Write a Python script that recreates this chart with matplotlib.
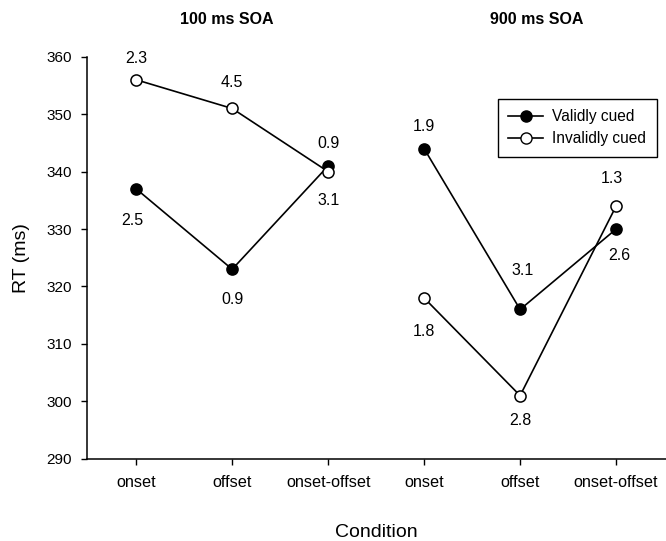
import numpy as np
import matplotlib
matplotlib.use('Agg')
import matplotlib.pyplot as plt
from matplotlib.lines import Line2D

plt.rcParams['font.family'] = ['Liberation Sans', 'DejaVu Sans']

# data
conditions = ['onset', 'offset', 'onset-offset']
soa_titles = ['100 ms SOA', '900 ms SOA']
valid_100 = [337, 323, 341]
invalid_100 = [356, 351, 340]
valid_900 = [344, 316, 330]
invalid_900 = [318, 301, 334]
valid_err_100 = ['2.5', '0.9', '0.9']
invalid_err_100 = ['2.3', '4.5', '3.1']
valid_err_900 = ['1.9', '3.1', '2.6']
invalid_err_900 = ['1.8', '2.8', '1.3']

# label offsets in points (dx, dy) from each marker
valid_off_100 = [(-3, -23), (0, -22), (0, 16)]
invalid_off_100 = [(0, 15), (0, 19), (0, -21)]
valid_off_900 = [(0, 16), (2, 28), (2, -19)]
invalid_off_900 = [(0, -24), (0, -18), (-3, 20)]

fig = plt.figure(figsize=(6.66, 5.41), dpi=100)
ax = fig.add_axes([0.131, 0.152, 0.869, 0.743])

mk = dict(color='black', lw=1.2, marker='o', markersize=8, markeredgewidth=1.1,
          markeredgecolor='black', clip_on=False)

groups = [
    (np.arange(3), valid_100, invalid_100, valid_err_100, invalid_err_100,
     valid_off_100, invalid_off_100),
    (np.arange(3) + 3, valid_900, invalid_900, valid_err_900, invalid_err_900,
     valid_off_900, invalid_off_900),
]

for x, v, inv, ve, ie, vo, io in groups:
    ax.plot(x, v, markerfacecolor='black', zorder=3, **mk)
    ax.plot(x, inv, markerfacecolor='white', zorder=4, **mk)
    for xi, yi, t, off in zip(x, v, ve, vo):
        ax.annotate(t, (xi, yi), xytext=off, textcoords='offset points',
                    ha='center', va='center', fontsize=11.5)
    for xi, yi, t, off in zip(x, inv, ie, io):
        ax.annotate(t, (xi, yi), xytext=off, textcoords='offset points',
                    ha='center', va='center', fontsize=11.5)

ax.set_xlim(-0.51, 5.52)
ax.set_ylim(290, 360)
ax.set_yticks(np.arange(290, 361, 10))
ax.set_xticks(np.arange(6))
ax.set_xticklabels(conditions * 2)
ax.tick_params(axis='both', direction='out', length=4, width=1, labelsize=11, pad=7)
ax.tick_params(axis='x', labelsize=11.7, pad=8)
for s in ['top', 'right']:
    ax.spines[s].set_visible(False)
for s in ['left', 'bottom']:
    ax.spines[s].set_linewidth(1.1)

ax.set_ylabel('RT (ms)', fontsize=14, labelpad=12)
ax.set_xlabel('Condition', fontsize=14, labelpad=24)

# group titles above each half
fig.text(227 / 666, 1 - 20 / 541, soa_titles[0], ha='center', va='center',
         fontsize=11.5, fontweight='bold')
fig.text(537 / 666, 1 - 20 / 541, soa_titles[1], ha='center', va='center',
         fontsize=11.5, fontweight='bold')

handles = [
    Line2D([], [], color='black', lw=1.2, marker='o', markersize=8,
           markerfacecolor='black', markeredgecolor='black'),
    Line2D([], [], color='black', lw=1.2, marker='o', markersize=8,
           markerfacecolor='white', markeredgecolor='black'),
]
leg = ax.legend(handles, ['Validly cued', 'Invalidly cued'], loc='upper right',
                bbox_to_anchor=(0.984, 0.896), fontsize=11.2, fancybox=False,
                edgecolor='black', framealpha=1, handlelength=2.2,
                borderpad=0.7, labelspacing=0.42, handletextpad=0.6,
                borderaxespad=0)
leg.get_frame().set_linewidth(1.0)

fig.savefig('out.png', dpi=100)
